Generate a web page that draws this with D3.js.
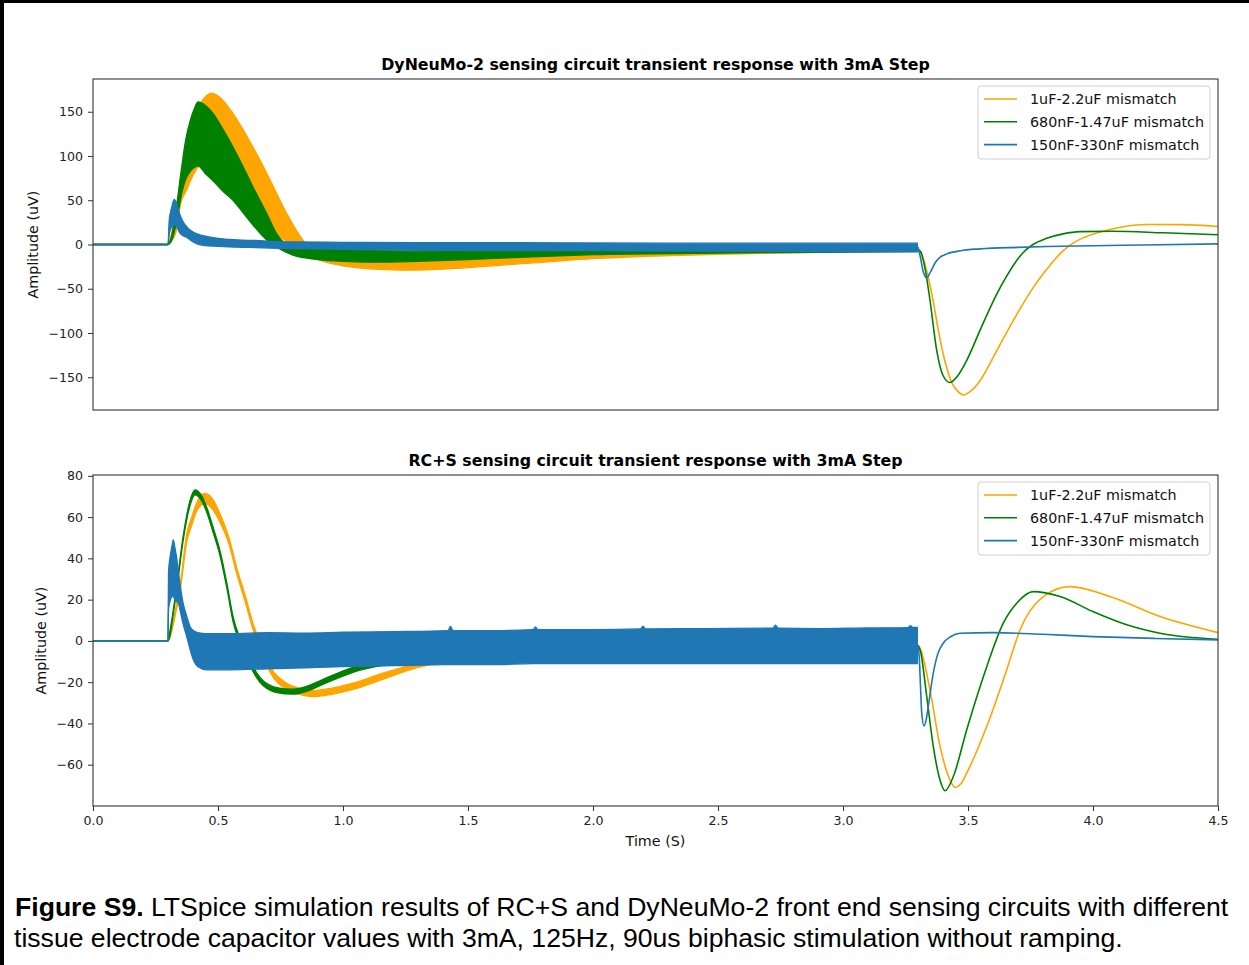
<!DOCTYPE html>
<html>
<head>
<meta charset="utf-8">
<script src="https://cdn.jsdelivr.net/npm/d3@7"></script>
<style>
  body { margin: 0; background: #fff; }
  text { font-family: "DejaVu Sans", sans-serif; }
</style>
</head>
<body>
<div id="chart"></div>
<script>
// legend names + colours
const seriesNames = ["1uF-2.2uF mismatch", "680nF-1.47uF mismatch", "150nF-330nF mismatch"];
const seriesColors = ["#ffa500", "#008000", "#1f77b4"];

const xTicks = [0, 0.5, 1.0, 1.5, 2.0, 2.5, 3.0, 3.5, 4.0, 4.5];
const topYTicks = [-150, -100, -50, 0, 50, 100, 150];
const botYTicks = [-60, -40, -20, 0, 20, 40, 60, 80];

// ---- DyNeuMo-2 panel: band envelopes (hi / lo) while stimulation is on, then a single trace
const dyOrangeT  = [0, 0.3, 0.31, 0.33, 0.35, 0.375, 0.4, 0.425, 0.45, 0.475, 0.5, 0.56, 0.64, 0.71, 0.775, 0.84, 0.9, 1.0, 1.15, 1.3, 1.5, 1.75, 2.0, 2.25, 2.5, 2.75, 3.0, 3.3];
const dyOrangeHi = [0, 0, 8, 35, 75, 112, 138, 157, 167, 171, 168, 148, 110, 72, 35, 5, -8, -15, -18, -19, -17, -14, -11, -9, -7, -6, -5, -4];
const dyOrangeLo = [0, 0, 3, 12, 45, 62, 78, 88, 86, 80, 75, 62, 40, 18, 3, -9, -17, -24, -28, -29, -26, -21, -16, -13, -11, -9.5, -8.7, -8];
const dyOrangeTailT = [3.3, 3.31, 3.335, 3.36, 3.38, 3.401, 3.435, 3.46, 3.481, 3.51, 3.548, 3.6, 3.64, 3.681, 3.72, 3.76, 3.815, 3.85, 3.881, 3.92, 3.96, 4.015, 4.1, 4.215, 4.35, 4.5];
const dyOrangeTailV = [-6, -8, -30, -63, -95, -124, -156, -166, -170, -166, -154, -128, -107, -86, -67, -49, -28, -16, -7, 1.5, 7.5, 13, 19, 22.6, 22.5, 20.4];

const dyGreenT  = [0, 0.3, 0.31, 0.325, 0.34, 0.355, 0.37, 0.39, 0.405, 0.42, 0.45, 0.48, 0.52, 0.56, 0.6, 0.64, 0.695, 0.735, 0.8, 0.9, 1.0, 1.15, 1.3, 1.5, 1.75, 2.0, 2.5, 3.0, 3.3];
const dyGreenHi = [0, 0, 5, 25, 55, 88, 117, 141, 153, 161, 157, 148, 130, 110, 88, 65, 35, 12, -3, -5, -6, -7, -7.5, -7, -6.5, -6, -5.5, -5, -4];
const dyGreenLo = [0, 0, 2, 14, 35, 58, 73, 83, 87, 89, 80, 72, 60, 50, 36, 22, 5, -3, -12, -17, -19, -20, -19, -17, -14, -11.5, -9.6, -8.7, -8];
const dyGreenTailT = [3.3, 3.31, 3.33, 3.348, 3.375, 3.4, 3.428, 3.46, 3.495, 3.548, 3.615, 3.65, 3.69, 3.721, 3.76, 3.815, 3.88, 3.948, 4.081, 4.281, 4.5];
const dyGreenTailV = [-6, -8, -30, -63, -120, -148, -156, -148, -131, -97, -56, -38, -20, -9, 0, 7, 12, 14.5, 15, 13.2, 11];

const dyBlueT  = [0, 0.3, 0.305, 0.315, 0.325, 0.335, 0.345, 0.36, 0.375, 0.4, 0.44, 0.5, 0.575, 0.65, 0.775, 1.0, 1.3, 1.7, 2.0, 2.5, 3.0, 3.3];
const dyBlueHi = [0, 0, 28, 42, 51, 46, 36, 26, 20, 14, 10, 7, 5.3, 4.5, 3, 2.5, 2, 2, 1.8, 1.5, 1.5, 1.5];
const dyBlueLo = [0, 0, 12, 20, 22, 20, 14, 10, 8, 3, -1, -2, -3, -3.5, -4.5, -5.5, -6.5, -7, -7, -7.5, -8, -8];
const dyBlueTailT = [3.3, 3.31, 3.322, 3.335, 3.35, 3.37, 3.39, 3.415, 3.47, 3.548, 3.7, 3.815, 4.0, 4.2, 4.5];
const dyBlueTailV = [-3, -15, -32, -37.7, -31, -20, -14, -10.6, -7, -4.9, -3.2, -2.3, -1.4, -0.5, 0.7];

// ---- RC+S panel
const rcOrangeT  = [0, 0.3, 0.31, 0.33, 0.35, 0.375, 0.395, 0.415, 0.448, 0.48, 0.51, 0.545, 0.575, 0.61, 0.64, 0.675, 0.71, 0.775, 0.83, 0.88, 0.95, 1.04, 1.15, 1.28, 1.5, 1.8, 2.2, 2.8, 3.3];
const rcOrangeHi = [0, 0, 3.5, 15, 28.5, 52, 60, 67, 71.5, 68.5, 61, 49.5, 35.5, 21.5, 8.5, -2.5, -12.5, -20.5, -23, -24, -23, -20.5, -16, -11.5, -6.5, -4.5, -3, -2, -1.5];
const rcOrangeLo = [0, 0, 2.5, 13, 25.5, 48, 56, 63, 66.5, 63.5, 57, 46.5, 32.5, 18.5, 5.5, -5.5, -15.5, -23.5, -26, -27, -26, -23.5, -19, -13.5, -8.5, -5.5, -4, -3, -2.5];
const rcOrangeTailT = [3.3, 3.31, 3.348, 3.388, 3.428, 3.448, 3.47, 3.495, 3.575, 3.655, 3.708, 3.801, 3.908, 4.068, 4.268, 4.5];
const rcOrangeTailV = [-2, -4, -23.8, -51, -67.4, -71, -69.5, -64, -41.5, -14, 5.3, 21.5, 26.3, 21.5, 11.8, 4.0];

const rcGreenT  = [0, 0.3, 0.305, 0.32, 0.335, 0.361, 0.388, 0.408, 0.43, 0.455, 0.48, 0.508, 0.535, 0.561, 0.588, 0.615, 0.668, 0.735, 0.8, 0.86, 0.908, 1.04, 1.24, 1.5, 1.8, 2.2, 2.8, 3.3];
const rcGreenHi = [0, 0, 3, 14, 27, 51, 68, 73.2, 71.2, 64.7, 55.2, 43.7, 28.2, 11.4, 1.2, -6.4, -17.7, -22.6, -23.4, -21.8, -19.3, -12.8, -8.2, -5.2, -3.4, -2.5, -2, -1.5];
const rcGreenLo = [0, 0, 1, 12, 25, 49, 65.6, 70.8, 68.8, 62.3, 52.8, 41.3, 25.8, 9, -1.2, -8.8, -20.1, -25, -25.8, -24.2, -21.7, -15.2, -10.2, -6.8, -4.6, -3.5, -3, -2.5];
const rcGreenTailT = [3.3, 3.31, 3.335, 3.361, 3.388, 3.408, 3.441, 3.495, 3.575, 3.641, 3.7, 3.761, 3.868, 4.0, 4.135, 4.268, 4.5];
const rcGreenTailV = [-2, -5, -27, -51, -67.4, -72.6, -65.8, -43, -12.5, 8.6, 19, 23.9, 21.5, 14.2, 7.8, 3.7, 0.8];

// blue RC+S band: noisy top edge, a few spikes
const rcBlueT  = [0, 0.3, 0.302, 0.31, 0.316, 0.321, 0.328, 0.335, 0.341, 0.35, 0.361, 0.375, 0.388, 0.401, 0.42, 0.455, 0.55, 0.7, 0.85, 1.0, 1.2, 1.42, 1.43, 1.44, 1.6, 1.76, 1.77, 1.78, 2.0, 2.19, 2.2, 2.21, 2.45, 2.72, 2.73, 2.74, 2.9, 3.1, 3.26, 3.27, 3.28, 3.3];
const rcBlueHi = [0, 0, 33, 42, 46, 49, 45, 40, 34, 26, 18, 12, 7, 5, 4, 3.5, 3.5, 4, 3.8, 4.2, 4.5, 5, 7, 5, 5, 5.5, 6.8, 5.5, 5.5, 5.8, 7.2, 5.8, 6, 6.2, 7.6, 6.2, 6, 6.3, 6.4, 7.4, 6.5, 6.5];
const rcBlueLo = [0, 0, 15, 20, 21.5, 21.5, 20, 19, 18.4, 14, 8, 2, -4, -9, -12.5, -14, -14, -13.5, -13, -12.5, -12, -11.5, -11.5, -11.5, -11.5, -11, -11, -11, -11, -11, -11, -11, -11, -11, -11, -11, -11, -11, -11, -11, -11, -11];
const rcBlueTailT = [3.3, 3.305, 3.31, 3.315, 3.324, 3.333, 3.341, 3.361, 3.38, 3.401, 3.43, 3.468, 3.6, 3.8, 4.0, 4.25, 4.5];
const rcBlueTailV = [-2, -8, -22, -35, -41.2, -38, -31.8, -15.7, -6, -1.1, 2, 3.7, 4, 3.2, 2.1, 1.2, 0.5];

const panels = [
  {
    title: "DyNeuMo-2 sensing circuit transient response with 3mA Step",
    top: 79, yDomain: [-187, 187], yTicks: topYTicks, labelX: 37.5, showX: false,
    series: [
      { t: dyOrangeT, hi: dyOrangeHi, lo: dyOrangeLo, tt: dyOrangeTailT, tv: dyOrangeTailV },
      { t: dyGreenT, hi: dyGreenHi, lo: dyGreenLo, tt: dyGreenTailT, tv: dyGreenTailV },
      { t: dyBlueT, hi: dyBlueHi, lo: dyBlueLo, tt: dyBlueTailT, tv: dyBlueTailV }
    ]
  },
  {
    title: "RC+S sensing circuit transient response with 3mA Step",
    top: 475, yDomain: [-80, 80.4], yTicks: botYTicks, labelX: 45.5, showX: true,
    series: [
      { t: rcOrangeT, hi: rcOrangeHi, lo: rcOrangeLo, tt: rcOrangeTailT, tv: rcOrangeTailV },
      { t: rcGreenT, hi: rcGreenHi, lo: rcGreenLo, tt: rcGreenTailT, tv: rcGreenTailV },
      { t: rcBlueT, hi: rcBlueHi, lo: rcBlueLo, tt: rcBlueTailT, tv: rcBlueTailV }
    ]
  }
];

const W = 1249, H = 965;
const left = 93, right = 1218, plotH = 331;

const svg = d3.select("#chart").append("svg")
  .attr("width", W).attr("height", H);

// black frame edges of the scanned figure
svg.append("rect").attr("x", 0).attr("y", 0).attr("width", 4).attr("height", H).attr("fill", "#000");
svg.append("rect").attr("x", 0).attr("y", 0).attr("width", W).attr("height", 3).attr("fill", "#000");

const x = d3.scaleLinear().domain([0, 4.5]).range([left, right]);
const minus = d => (d < 0 ? "\u2212" + Math.abs(d) : String(d));

panels.forEach(p => {
  const y = d3.scaleLinear().domain(p.yDomain).range([p.top + plotH, p.top]);
  const g = svg.append("g");

  const clipId = "clip" + p.top;
  svg.append("clipPath").attr("id", clipId)
    .append("rect").attr("x", left).attr("y", p.top).attr("width", right - left).attr("height", plotH);

  const plot = g.append("g").attr("clip-path", "url(#" + clipId + ")");

  const area = d3.area()
    .x(d => x(d.t)).y0(d => y(d.lo)).y1(d => y(d.hi))
    .curve(d3.curveMonotoneX);
  const line = d3.line()
    .x(d => x(d.t)).y(d => y(d.v))
    .curve(d3.curveMonotoneX);

  p.series.forEach((s, i) => {
    const band = s.t.map((t, k) => ({ t: t, hi: s.hi[k], lo: s.lo[k] }));
    const col = seriesColors[i];
    plot.append("path").datum(band).attr("d", area).attr("fill", col);
    plot.append("path").datum(band.map(d => ({ t: d.t, v: d.hi })))
      .attr("d", line).attr("fill", "none").attr("stroke", col).attr("stroke-width", 1.3);
    plot.append("path").datum(band.map(d => ({ t: d.t, v: d.lo })))
      .attr("d", line).attr("fill", "none").attr("stroke", col).attr("stroke-width", 1.3);
    plot.append("path").datum(s.tt.map((t, k) => ({ t: t, v: s.tv[k] })))
      .attr("d", line).attr("fill", "none").attr("stroke", col).attr("stroke-width", 1.6);
  });

  // y axis
  const ya = g.append("g").attr("transform", "translate(" + left + ",0)")
    .call(d3.axisLeft(y).tickValues(p.yTicks).tickFormat(minus).tickSize(5).tickPadding(5));
  ya.select(".domain").remove();
  ya.selectAll("line").attr("stroke", "#333");
  ya.selectAll("text").attr("font-size", 12.6).attr("fill", "#222")
    .attr("font-family", "DejaVu Sans");

  if (p.showX) {
    const xa = g.append("g").attr("transform", "translate(0," + (p.top + plotH) + ")")
      .call(d3.axisBottom(x).tickValues(xTicks).tickFormat(d3.format(".1f")).tickSize(5).tickPadding(5));
    xa.select(".domain").remove();
    xa.selectAll("line").attr("stroke", "#333");
    xa.selectAll("text").attr("font-size", 12.6).attr("fill", "#222")
      .attr("font-family", "DejaVu Sans");
    g.append("text").attr("x", (left + right) / 2).attr("y", 846)
      .attr("text-anchor", "middle").attr("font-size", 14.3).attr("fill", "#111")
      .text("Time (S)");
  }

  // frame
  g.append("rect").attr("x", left).attr("y", p.top).attr("width", right - left).attr("height", plotH)
    .attr("fill", "none").attr("stroke", "#333").attr("stroke-width", 1.1);

  g.append("text").attr("x", (left + right) / 2).attr("y", p.top - 9)
    .attr("text-anchor", "middle").attr("font-size", 15.8).attr("font-weight", "bold")
    .attr("fill", "#000").text(p.title);

  g.append("text")
    .attr("transform", "translate(" + p.labelX + "," + (p.top + plotH / 2) + ") rotate(-90)")
    .attr("text-anchor", "middle").attr("font-size", 14.3).attr("fill", "#111")
    .text("Amplitude (uV)");

  // legend
  const lg = g.append("g").attr("transform", "translate(978," + (p.top + 7) + ")");
  lg.append("rect").attr("width", 232).attr("height", 73).attr("rx", 3)
    .attr("fill", "#fff").attr("fill-opacity", 0.85).attr("stroke", "#d0d0d0");
  seriesNames.forEach((n, i) => {
    const yy = 13 + i * 22.8;
    lg.append("line").attr("x1", 6).attr("x2", 39).attr("y1", yy).attr("y2", yy)
      .attr("stroke", seriesColors[i]).attr("stroke-width", 1.6);
    lg.append("text").attr("x", 52).attr("y", yy + 5).attr("font-size", 14.3)
      .attr("fill", "#111").text(n);
  });
});

// caption
const capFont = "'Liberation Sans', Arial, sans-serif";
const cap = svg.append("g").attr("font-size", 26.6).attr("fill", "#000");
const l1 = cap.append("text").attr("x", 15).attr("y", 916).style("font-family", capFont);
l1.append("tspan").attr("font-weight", "bold").text("Figure S9.");
l1.append("tspan").text(" LTSpice simulation results of RC+S and DyNeuMo-2 front end sensing circuits with different");
cap.append("text").attr("x", 14).attr("y", 947).style("font-family", capFont)
  .text("tissue electrode capacitor values with 3mA, 125Hz, 90us biphasic stimulation without ramping.");
</script>
</body>
</html>
